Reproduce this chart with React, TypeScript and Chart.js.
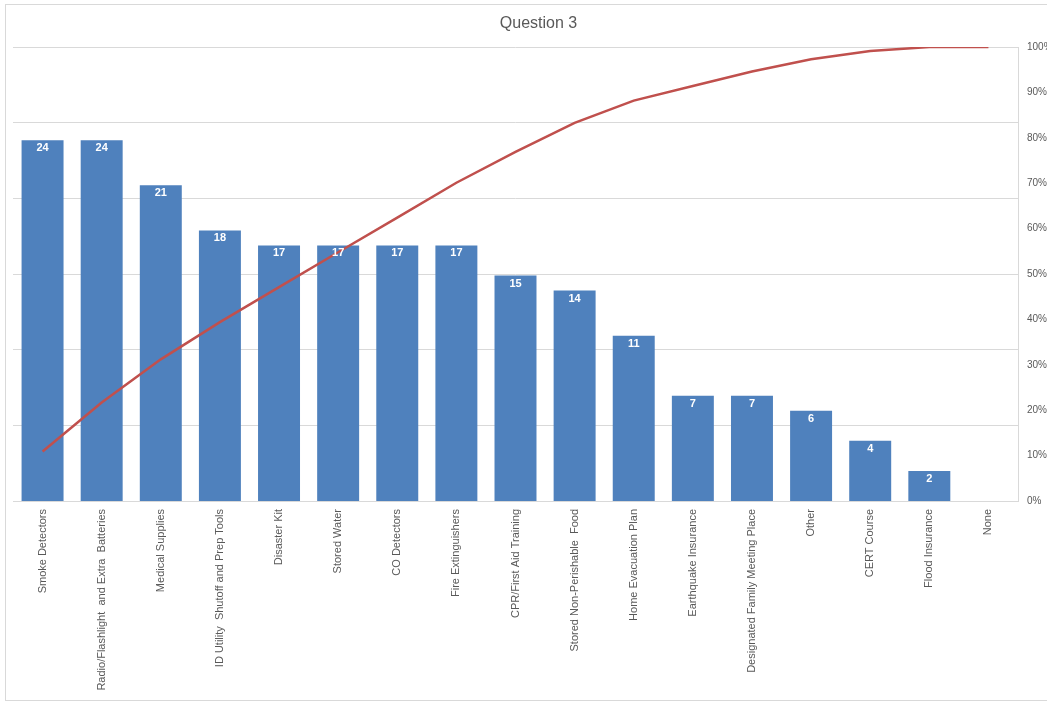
import React, { useEffect, useRef } from "react";
import { Chart, registerables } from "chart.js";

Chart.register(...registerables);

const categories = [
  "Smoke Detectors",
  "Radio/Flashlight  and Extra  Batteries",
  "Medical Supplies",
  "ID Utility  Shutoff and Prep Tools",
  "Disaster Kit",
  "Stored Water",
  "CO Detectors",
  "Fire Extinguishers",
  "CPR/First Aid Training",
  "Stored Non-Perishable  Food",
  "Home Evacuation Plan",
  "Earthquake Insurance",
  "Designated Family Meeting Place",
  "Other",
  "CERT Course",
  "Flood Insurance",
  "None",
];

const counts = [24, 24, 21, 18, 17, 17, 17, 17, 15, 14, 11, 7, 7, 6, 4, 2, 0];

const cumulativePct = [
  10.9, 21.7, 31.2, 39.4, 47.1, 54.8, 62.4, 70.1, 76.9, 83.3, 88.2, 91.4, 94.6,
  97.3, 99.1, 100, 100,
];

const title = "Question 3";

const W = 1064;
const H = 702;
const FONT = "'Liberation Sans', Arial, sans-serif";
const TEXT = "#595959";
const GRID = "#d9d9d9";

const frame = {
  id: "frame",
  beforeDraw(chart: any) {
    const ctx = chart.ctx;
    ctx.save();
    ctx.fillStyle = "#ffffff";
    ctx.fillRect(0, 0, chart.width, chart.height);
    ctx.strokeStyle = GRID;
    ctx.lineWidth = 1;
    ctx.strokeRect(5.5, 4.5, chart.width, 696);
    ctx.restore();
  },
};

const barLabels = {
  id: "barLabels",
  afterDatasetsDraw(chart: any) {
    const ctx = chart.ctx;
    const meta = chart.getDatasetMeta(1);
    ctx.save();
    ctx.fillStyle = "#ffffff";
    ctx.font = `bold 11px ${FONT}`;
    ctx.textAlign = "center";
    ctx.textBaseline = "middle";
    meta.data.forEach((el: any, i: number) => {
      const v = counts[i];
      if (!v) return;
      ctx.fillText(String(v), el.x, el.y + 8);
    });
    ctx.restore();
  },
};

export default function App() {
  const ref = useRef<HTMLCanvasElement | null>(null);

  useEffect(() => {
    if (!ref.current) return;
    const chart = new Chart(ref.current, {
      data: {
        labels: categories,
        datasets: [
          {
            type: "line",
            data: cumulativePct.map((v) => v / 100),
            yAxisID: "y1",
            borderColor: "#C0504D",
            borderWidth: 2.5,
            pointRadius: 0,
            tension: 0,
            order: 0,
          } as any,
          {
            type: "bar",
            data: counts,
            yAxisID: "y",
            backgroundColor: "#4F81BD",
            barPercentage: 0.71,
            categoryPercentage: 1,
            order: 1,
          } as any,
        ],
      },
      options: {
        responsive: false,
        animation: false,
        devicePixelRatio: 1,
        layout: { padding: { left: 13, right: 0, top: 0, bottom: 0 } },
        plugins: {
          legend: { display: false },
          tooltip: { enabled: false },
          title: {
            display: true,
            text: title,
            color: TEXT,
            font: { family: FONT, size: 16, weight: "normal" },
            padding: { top: 14, bottom: 13.8 },
          },
        },
        scales: {
          x: {
            grid: { display: false, drawTicks: false },
            border: { color: GRID },
            ticks: {
              autoSkip: false,
              maxRotation: 90,
              minRotation: 90,
              color: TEXT,
              font: { family: FONT, size: 11 },
              padding: 8,
            },
            afterFit(scale: any) {
              scale.height = 201;
            },
          },
          yg: {
            position: "left",
            min: 0,
            max: 30,
            ticks: { stepSize: 5, display: false },
            grid: { color: GRID, drawTicks: false },
            border: { display: false },
            afterFit(scale: any) {
              scale.width = 0;
            },
          },
          y: {
            position: "left",
            min: 0,
            max: 30.2,
            display: false,
          },
          y1: {
            position: "right",
            min: 0,
            max: 1,
            ticks: {
              stepSize: 0.1,
              color: TEXT,
              font: { family: FONT, size: 10 },
              padding: 9,
              callback: (v: any) => Math.round(Number(v) * 100) + "%",
            },
            grid: { display: false, drawTicks: false },
            border: { color: GRID },
            afterFit(scale: any) {
              scale.width = W - 1018;
            },
          },
        },
      } as any,
      plugins: [frame, barLabels],
    });
    return () => chart.destroy();
  }, []);

  return (
    <div
      style={{
        position: "fixed",
        left: 0,
        top: 0,
        width: 1047,
        height: 702,
        overflow: "hidden",
        background: "#fff",
      }}
    >
      <canvas ref={ref} width={W} height={H} style={{ display: "block" }} />
    </div>
  );
}
